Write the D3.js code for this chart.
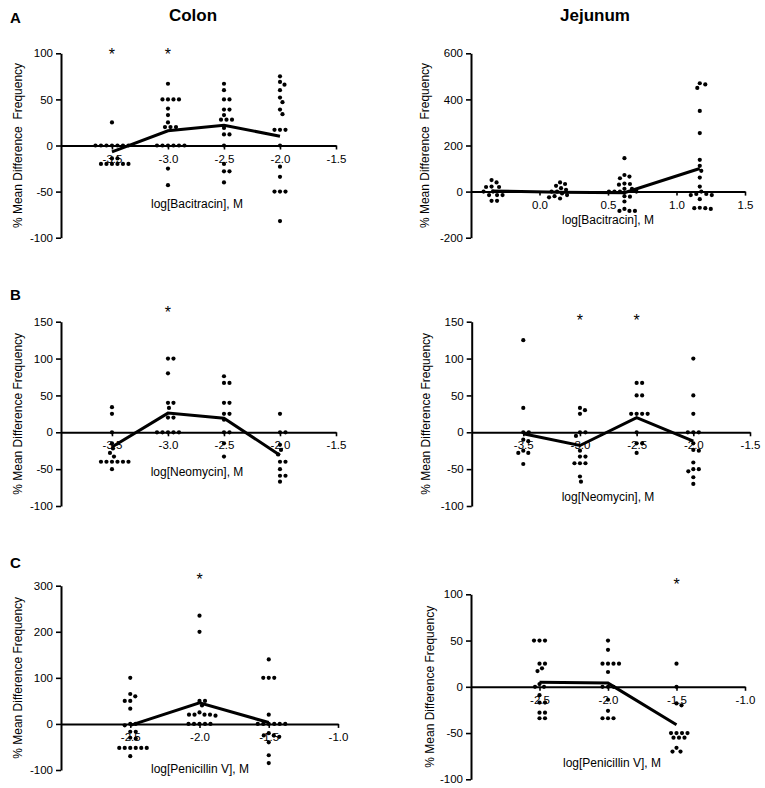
<!DOCTYPE html>
<html>
<head>
<meta charset="utf-8">
<script src="https://cdn.jsdelivr.net/npm/d3@7"></script>
<style>
  body { margin: 0; background: #fff; }
  text { font-family: "Liberation Sans", Arial, Helvetica, sans-serif; }
</style>
</head>
<body>
<div id="chart"></div>
<script>
// ---- Data ----

// A. Bacitracin
const colonBacDose = [-3.5, -3.0, -2.5, -2.0];
const colonBacPoints = [
    [25, 0, 0, 0, 0, 0, 0, 0, -14, -14, -20, -20, -20, -20, -20, -20],
    [67, 50, 50, 50, 50, 40, 33, 25, 20, 20, 20, 0, 0, 0, 0, 0, 0, -25, -43],
    [67, 60, 50, 50, 39, 39, 33, 28, 28, 28, 19, 12, 12, 0, -20, -28, -28, -40],
    [75, 69, 66, 60, 52, 47, 39, 34, 17, 17, 17, 0, -23, -34, -50, -50, -50, -82]
];
const colonBacMean = [-7, 16, 22, 10];
const colonBacStars = [-3.5, -3.0];

const jejBacDose = [-0.35, 0.15, 0.62, 1.17];
const jejBacPoints = [
    [50, 40, 22, 20, 20, 0, 0, -15, -15, -15, -40, -40],
    [40, 33, 25, 15, 8, 0, 0, -8, -15, -20, -25, -30],
    [145, 72, 65, 58, 35, 33, 30, 12, 12, 0, 0, 0, 0, -20, -22, -43, -75, -84, -84, -84],
    [470, 465, 450, 350, 254, 138, 112, 90, 61, 22, 0, -10, -10, -15, -15, -33, -70, -72, -75, -72]
];
const jejBacMean = [3, -3, -5, 100];
const jejBacStars = [];

// B. Neomycin
const colonNeoDose = [-3.5, -3.0, -2.5, -2.0];
const colonNeoPoints = [
    [34, 25, 0, -15, -22, -28, -33, -40, -40, -40, -40, -40, -40, -50],
    [100, 100, 80, 40, 40, 33, 20, 20, 0, 0, 0, 0, 0],
    [76, 67, 67, 40, 40, 25, 25, 17, 0, 0, -15, -33],
    [25, 0, 0, -17, -24, -30, -40, -40, -50, -59, -59, -67]
];
const colonNeoMean = [-20, 26, 19, -31];
const colonNeoStars = [-3.0];

const jejNeoDose = [-3.5, -3.0, -2.5, -2.0];
const jejNeoPoints = [
    [125, 33, 0, 0, -10, -12, -25, -28, -28, -43],
    [33, 30, 25, 0, 0, -5, -25, -33, -33, -42, -42, -42, -60, -67],
    [67, 67, 50, 50, 25, 25, 25, 25, 0, -15, -15, -28],
    [100, 50, 25, 0, 0, 0, -15, -24, -25, -41, -50, -50, -53, -61, -70]
];
const jejNeoMean = [-2, -18, 20, -12];
const jejNeoStars = [-3.0, -2.5];

// C. Penicillin V
const colonPenDose = [-2.5, -2.0, -1.5];
const colonPenPoints = [
    [100, 65, 60, 50, 50, 33, 0, 0, -3, -17, -17, -30, -32, -52, -52, -52, -52, -52, -52, -70],
    [235, 200, 50, 50, 40, 25, 20, 20, 20, 20, 18, 0, 0, 0, 0, 0],
    [140, 100, 100, 100, 20, 0, 0, 0, 0, 0, 0, -20, -25, -25, -28, -40, -68, -85]
];
const colonPenMean = [-3, 46, 3];
const colonPenStars = [-2.0];

const jejPenDose = [-2.5, -2.0, -1.5];
const jejPenPoints = [
    [50, 50, 50, 25, 25, 20, 17, 3, 0, 0, -9, -17, -17, -28, -28, -34, -34],
    [50, 40, 25, 25, 25, 25, 16, 0, 0, 0, -14, -26, -34, -34, -34],
    [25, 0, -18, -20, -50, -50, -50, -50, -55, -55, -55, -66, -70, -70]
];
const jejPenMean = [5, 4, -41];
const jejPenStars = [-1.5];

// Axis ticks
const bacColonXTicks = [-3.5, -3.0, -2.5, -2.0, -1.5];
const bacJejXTicks = [0.0, 0.5, 1.0, 1.5];
const neoXTicks = [-3.5, -3.0, -2.5, -2.0, -1.5];
const penXTicks = [-2.5, -2.0, -1.5, -1.0];
const yTicksA = [-100, -50, 0, 50, 100];
const yTicksAJej = [-200, 0, 200, 400, 600];
const yTicksB = [-100, -50, 0, 50, 100, 150];
const yTicksCColon = [-100, 0, 100, 200, 300];
const yTicksCJej = [-100, -50, 0, 50, 100];

const width = 765;
const height = 788;

const svg = d3.select("#chart").append("svg")
    .attr("width", width)
    .attr("height", height)
    .attr("viewBox", [0, 0, width, height]);

svg.append("rect").attr("width", width).attr("height", height).attr("fill", "#fff");

// Panel layout
const panels = [
    { dose: colonBacDose, points: colonBacPoints, mean: colonBacMean, stars: colonBacStars,
      left: 61, right: 336, top: 53.3, bottom: 237.7, xDomain: [-3.955, -1.5], yDomain: [-100, 100],
      xTicks: bacColonXTicks, yTicks: yTicksA, xTitle: "log[Bacitracin], M", titleX: 197, titleY: 204,
      yTitle: "% Mean Difference  Frequency", yTitleX: 18, starY: 50.7 },
    { dose: jejBacDose, points: jejBacPoints, mean: jejBacMean, stars: jejBacStars,
      left: 471, right: 745, top: 53.3, bottom: 237.7, xDomain: [-0.5, 1.5], yDomain: [-200, 600],
      xTicks: bacJejXTicks, yTicks: yTicksAJej, xTitle: "log[Bacitracin], M", titleX: 608, titleY: 220,
      yTitle: "% Mean Difference  Frequency", yTitleX: 425, starY: 50 },
    { dose: colonNeoDose, points: colonNeoPoints, mean: colonNeoMean, stars: colonNeoStars,
      left: 61, right: 336, top: 321.7, bottom: 506, xDomain: [-3.955, -1.5], yDomain: [-100, 150],
      xTicks: neoXTicks, yTicks: yTicksB, xTitle: "log[Neomycin], M", titleX: 197, titleY: 471.7,
      yTitle: "% Mean Difference Frequency", yTitleX: 18, starY: 309.3 },
    { dose: jejNeoDose, points: jejNeoPoints, mean: jejNeoMean, stars: jejNeoStars,
      left: 471.7, right: 750, top: 321.7, bottom: 506, xDomain: [-3.955, -1.5], yDomain: [-100, 150],
      xTicks: neoXTicks, yTicks: yTicksB, xTitle: "log[Neomycin], M", titleX: 608, titleY: 496.7,
      yTitle: "% Mean Difference Frequency", yTitleX: 426, starY: 317.3 },
    { dose: colonPenDose, points: colonPenPoints, mean: colonPenMean, stars: colonPenStars,
      left: 61, right: 338, top: 585.7, bottom: 770, xDomain: [-3, -1], yDomain: [-100, 300],
      xTicks: penXTicks, yTicks: yTicksCColon, xTitle: "log[Penicillin V], M", titleX: 200, titleY: 769,
      yTitle: "% Mean Difference Frequency", yTitleX: 18, starY: 576 },
    { dose: jejPenDose, points: jejPenPoints, mean: jejPenMean, stars: jejPenStars,
      left: 471, right: 745, top: 594.3, bottom: 779.3, xDomain: [-3, -1], yDomain: [-100, 100],
      xTicks: penXTicks, yTicks: yTicksCJej, xTitle: "log[Penicillin V], M", titleX: 612, titleY: 763,
      yTitle: "% Mean Difference Frequency", yTitleX: 430, starY: 580.7 }
];

// Simple beeswarm: put each dot as near the column centre as it can go without overlapping.
function swarm(values, cx, y, minDist) {
    const placed = [];
    const step = 0.5;
    values.slice().sort((a, b) => b - a).forEach(v => {
        const py = y(v);
        for (let k = 0; k < 400; k++) {
            const off = (k % 2 === 1 ? 1 : -1) * Math.ceil(k / 2) * step;
            const px = cx + off;
            const hit = placed.some(p => (p.x - px) ** 2 + (p.y - py) ** 2 < minDist * minDist);
            if (!hit) { placed.push({ x: px, y: py }); break; }
        }
    });
    return placed;
}

function drawPanel(p) {
    const x = d3.scaleLinear().domain(p.xDomain).range([p.left, p.right]);
    const y = d3.scaleLinear().domain(p.yDomain).range([p.bottom, p.top]);
    const g = svg.append("g");

    // y axis
    g.append("g")
        .attr("transform", `translate(${p.left},0)`)
        .call(d3.axisLeft(y).tickValues(p.yTicks).tickSize(5).tickSizeOuter(0).tickPadding(3)
            .tickFormat(d => String(d)))
        .call(a => a.select(".domain").attr("stroke-width", 2))
        .call(a => a.selectAll(".tick line").attr("stroke-width", 1.6))
        .call(a => a.selectAll(".tick text").attr("font-size", 11.5).attr("fill", "#000")
            .attr("font-family", "'Liberation Sans', Arial, sans-serif"));

    // x axis at y = 0
    g.append("g")
        .attr("transform", `translate(0,${y(0)})`)
        .call(d3.axisBottom(x).tickValues(p.xTicks).tickSize(4).tickSizeOuter(0).tickPadding(5)
            .tickFormat(d => d.toFixed(1)))
        .call(a => a.select(".domain").attr("stroke-width", 2))
        .call(a => a.selectAll(".tick line").attr("stroke-width", 1.6))
        .call(a => a.selectAll(".tick text").attr("font-size", 11.5).attr("fill", "#000")
            .attr("font-family", "'Liberation Sans', Arial, sans-serif"));

    // scatter dots
    p.points.forEach((vals, i) => {
        const dots = swarm(vals, x(p.dose[i]), y, 5.2);
        g.append("g").selectAll("circle")
            .data(dots)
            .join("circle")
            .attr("cx", d => d.x)
            .attr("cy", d => d.y)
            .attr("r", 2.1)
            .attr("fill", "#000");
    });

    // mean line
    const line = d3.line().x((d, i) => x(p.dose[i])).y(d => y(d));
    g.append("path")
        .datum(p.mean)
        .attr("fill", "none")
        .attr("stroke", "#000")
        .attr("stroke-width", 3)
        .attr("d", line);

    // significance stars
    g.selectAll(".star")
        .data(p.stars)
        .join("text")
        .attr("class", "star")
        .attr("x", d => x(d))
        .attr("y", p.starY + 9)
        .attr("text-anchor", "middle")
        .attr("font-size", 16)
        .attr("fill", "#000")
        .text("*");

    // axis titles
    g.append("text")
        .attr("x", p.titleX)
        .attr("y", p.titleY)
        .attr("dy", "0.35em")
        .attr("text-anchor", "middle")
        .attr("font-size", 12)
        .attr("fill", "#000")
        .text(p.xTitle);

    g.append("text")
        .attr("transform", `translate(${p.yTitleX},${(p.top + p.bottom) / 2}) rotate(-90)`)
        .attr("dy", "0.35em")
        .attr("text-anchor", "middle")
        .attr("font-size", 12)
        .attr("fill", "#000")
        .style("white-space", "pre")
        .text(p.yTitle);
}

panels.forEach(drawPanel);

// Column titles and panel letters
svg.append("text").attr("x", 193).attr("y", 21).attr("text-anchor", "middle")
    .attr("font-size", 17).attr("font-weight", "bold").text("Colon");
svg.append("text").attr("x", 595).attr("y", 21).attr("text-anchor", "middle")
    .attr("font-size", 17).attr("font-weight", "bold").text("Jejunum");

[["A", 23], ["B", 300], ["C", 568]].forEach(([t, yy]) => {
    svg.append("text").attr("x", 10).attr("y", yy)
        .attr("font-size", 15).attr("font-weight", "bold").text(t);
});
</script>
</body>
</html>
